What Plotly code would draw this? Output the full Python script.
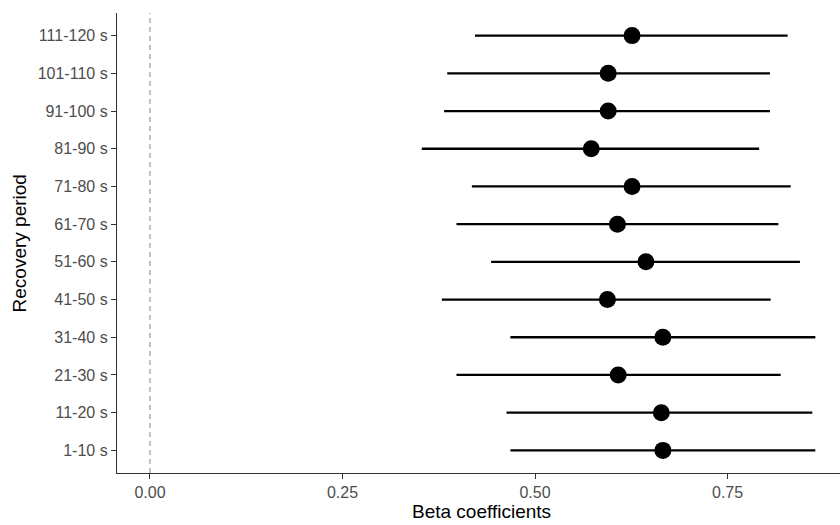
import plotly.graph_objects as go

periods = ["1-10 s", "11-20 s", "21-30 s", "31-40 s", "41-50 s", "51-60 s",
           "61-70 s", "71-80 s", "81-90 s", "91-100 s", "101-110 s", "111-120 s"]
estimate = [0.666, 0.664, 0.608, 0.666, 0.594, 0.644, 0.607, 0.626, 0.573, 0.595, 0.595, 0.626]
ci_low = [0.468, 0.463, 0.398, 0.468, 0.379, 0.443, 0.398, 0.418, 0.353, 0.382, 0.386, 0.422]
ci_high = [0.864, 0.860, 0.819, 0.864, 0.806, 0.844, 0.816, 0.832, 0.791, 0.805, 0.805, 0.828]
x_ticks = [0.0, 0.25, 0.5, 0.75]
x_tick_labels = ["0.00", "0.25", "0.50", "0.75"]

ypos = list(range(1, len(periods) + 1))
err_plus = [h - e for h, e in zip(ci_high, estimate)]
err_minus = [e - l for e, l in zip(estimate, ci_low)]

FONT = "Liberation Sans, Arial, sans-serif"

fig = go.Figure()
fig.add_trace(go.Scatter(
    x=estimate, y=ypos, mode="markers",
    marker=dict(color="black", size=17, line=dict(width=0)),
    error_x=dict(type="data", symmetric=False, array=err_plus, arrayminus=err_minus,
                 color="black", thickness=2.3, width=0),
    showlegend=False, hoverinfo="skip",
))

fig.add_shape(type="line", xref="x", yref="paper", x0=0, x1=0, y0=0, y1=1,
              line=dict(color="#9A9A9A", width=1.2, dash="5px,4px"), layer="below")

fig.update_layout(
    width=840, height=525,
    margin=dict(l=117, r=0, t=13, b=52),
    paper_bgcolor="white", plot_bgcolor="white",
    font=dict(family=FONT),
    xaxis=dict(
        range=[-0.0428, 0.896], tickvals=x_ticks, ticktext=x_tick_labels,
        showgrid=False, zeroline=False,
        showline=True, linecolor="#333333", linewidth=1.3,
        ticks="outside", ticklen=5, tickwidth=1.1, tickcolor="#333333",
        tickfont=dict(size=16, color="#4D4D4D", family=FONT),
    ),
    yaxis=dict(
        range=[0.4, 12.6], tickvals=ypos, ticktext=periods,
        showgrid=False, zeroline=False,
        showline=True, linecolor="#333333", linewidth=1.3,
        ticks="outside", ticklen=5, tickwidth=1.1, tickcolor="#333333",
        tickfont=dict(size=16, color="#4D4D4D", family=FONT),
    ),
    annotations=[
        dict(text="Beta coefficients", xref="paper", yref="paper",
             x=0.5046, y=-0.083, xanchor="center", yanchor="middle",
             showarrow=False, font=dict(size=19, color="black", family=FONT)),
        dict(text="Recovery period", xref="paper", yref="paper",
             x=-0.1349, y=0.5, xanchor="center", yanchor="middle", textangle=-90,
             showarrow=False, font=dict(size=19, color="black", family=FONT)),
    ],
)

fig.write_html("out.html")
